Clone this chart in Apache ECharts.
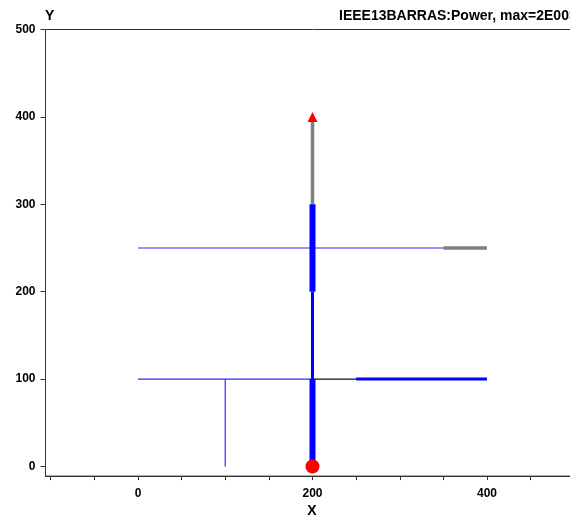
<!DOCTYPE html>
<html>
<head>
<meta charset="utf-8">
<script src="https://cdn.jsdelivr.net/npm/echarts@6/dist/echarts.min.js"></script>
<style>
  html, body { margin: 0; padding: 0; background: #fff; overflow: hidden; }
  /* the plot frame runs past the right edge of the window, so the canvas is wider */
  #chart { width: 600px; height: 518px; }
</style>
</head>
<body>
<div id="chart"></div>
<script>
// Feeder layout, coordinates in plot units (x, y)
const thinBlueSegments = [
  [[0, 100], [200, 100]],
  [[100, 0], [100, 100]],
  [[0, 250], [350, 250]]
];
const mediumBlueSegments = [
  [[200, 100], [200, 200]],
  [[250, 100], [400, 100]]
];
const thickBlueSegments = [
  [[200, 0], [200, 100]],
  [[200, 200], [200, 300]]
];
const graySegments = [
  [[200, 300], [200, 400]],
  [[350, 250], [400, 250]]
];
const blackSegments = [
  [[200, 100], [250, 100]]
];
const sourcePoint = [[200, 0]];
const arrowPoint = [[200, 400]];

// Axis ticks and labels
const xRange = [-106, 506];
const yRange = [-11, 500];
const xTickValues = [-100, -50, 0, 50, 100, 150, 200, 250, 300, 350, 400, 450, 500];
const xLabelValues = [0, 200, 400];
const yTickValues = [0, 100, 200, 300, 400, 500];

const titleText = 'IEEE13BARRAS:Power, max=2E003';
const FONT = '"Liberation Sans", Arial, sans-serif';

function segmentSeries(list, color, width, z) {
  return list.map(seg => ({
    type: 'line',
    data: seg,
    showSymbol: false,
    symbol: 'none',
    animation: false,
    silent: true,
    z: z,
    lineStyle: { color: color, width: width, cap: 'butt' }
  }));
}

const chart = echarts.init(document.getElementById('chart'), null, { renderer: 'canvas' });

chart.setOption({
  backgroundColor: '#ffffff',
  animation: false,
  title: {
    text: titleText,
    left: 339,
    top: 9,
    padding: 0,
    textStyle: { fontFamily: FONT, fontSize: 14, fontWeight: 'bold', color: '#000' }
  },
  graphic: [
    {
      type: 'text', left: 45, top: 9,
      style: { text: 'Y', fontFamily: FONT, fontSize: 14, fontWeight: 'bold', fill: '#000' }
    },
    {
      type: 'text', x: 312, y: 511,
      style: { text: 'X', fontFamily: FONT, fontSize: 14, fontWeight: 'bold', fill: '#000',
               align: 'center', verticalAlign: 'middle' }
    }
  ],
  grid: {
    left: 45.5, top: 29.5, width: 534, height: 446.6,
    show: true, borderColor: '#333', borderWidth: 1, backgroundColor: 'transparent'
  },
  xAxis: {
    type: 'value',
    min: xRange[0], max: xRange[1],
    splitLine: { show: false },
    axisLine: { show: true, onZero: false, lineStyle: { color: '#333', width: 1 } },
    axisTick: { show: true, length: 4, customValues: xTickValues, lineStyle: { color: '#333' } },
    axisLabel: { customValues: xLabelValues, margin: 12, fontFamily: FONT, fontSize: 12,
                 fontWeight: 'bold', color: '#000' }
  },
  yAxis: {
    type: 'value',
    min: yRange[0], max: yRange[1],
    splitLine: { show: false },
    axisLine: { show: true, onZero: false, lineStyle: { color: '#333', width: 1 } },
    axisTick: { show: true, length: 5, customValues: yTickValues, lineStyle: { color: '#333' } },
    axisLabel: { customValues: yTickValues, margin: 10, fontFamily: FONT, fontSize: 12,
                 fontWeight: 'bold', color: '#000' }
  },
  series: [
    ...segmentSeries(thinBlueSegments, '#2a2aff', 1.2, 2),
    ...segmentSeries(blackSegments, '#111111', 1.2, 2),
    ...segmentSeries(mediumBlueSegments, '#0000ff', 3, 3),
    ...segmentSeries(graySegments, '#808080', 3.5, 3),
    ...segmentSeries(thickBlueSegments, '#0000ff', 6, 4),
    {
      type: 'scatter', data: sourcePoint, symbol: 'circle', symbolSize: 14,
      itemStyle: { color: '#ff0000', opacity: 1 }, z: 6, silent: true, animation: false
    },
    {
      type: 'scatter', data: arrowPoint, symbol: 'triangle', symbolSize: [10, 10],
      itemStyle: { color: '#ff0000', opacity: 1 }, z: 6, silent: true, animation: false
    }
  ]
});
</script>
</body>
</html>
